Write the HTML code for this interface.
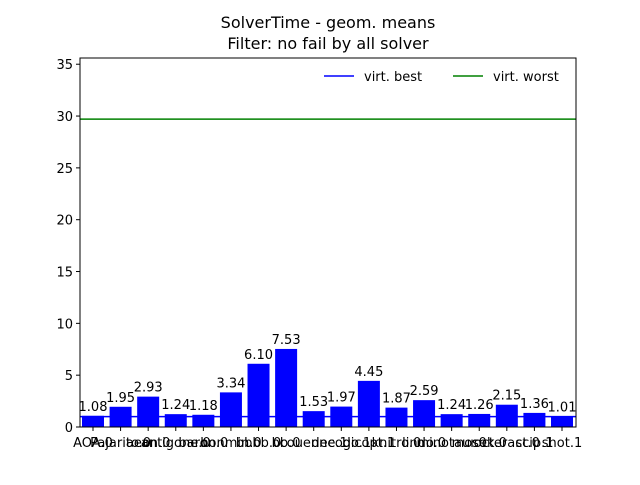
<!DOCTYPE html>
<html><head><meta charset="utf-8"><style>
body{margin:0;background:#fff;font-family:"Liberation Sans","DejaVu Sans",sans-serif;}
svg text{font-family:"DejaVu Sans","Liberation Sans",sans-serif;}
</style></head><body>
<svg id="chart" width="640" height="480">
<rect width="640" height="480" fill="#fff"/>
<text x="328" y="28" font-size="16" text-anchor="middle">SolverTime - geom. means</text>
<text x="328" y="49" font-size="16" text-anchor="middle">Filter: no fail by all solver</text>
<g id="plot"></g>
</svg>
<script>
const categories=["AOA.0","Pajarito.0","aeon.0","antigone.0","baron.0","bonmin.0","bbbb.0","bb.0","couenne.1","decogo.1","dicopt.1","knitro.0","lindo.0","minotaur.0","mosek.0","octeract.0","scip.1","shot.1"];
const values=[1.08,1.95,2.93,1.24,1.18,3.34,6.10,7.53,1.53,1.97,4.45,1.87,2.59,1.24,1.26,2.15,1.36,1.01];
const yTicks=[0,5,10,15,20,25,30,35];
const virtBest=1.0;
const virtWorst=29.7;
const L=80,R=576,T=58,B=427,YMAX=35.6;
const ns="http://www.w3.org/2000/svg";
const g=document.getElementById('plot');
function y(v){return B-(v/YMAX)*(B-T);}
const step=(R-L)/(categories.length+0.5);
function x(i){return L+13+i*((R-L-27)/(categories.length-1));}
function mk(t,a,p){const e=document.createElementNS(ns,t);for(const k in a)e.setAttribute(k,a[k]);(p||g).appendChild(e);return e;}
values.forEach((v,i)=>{
 const b=mk('rect',{x:x(i)-11,y:y(v),width:22,height:B-y(v),fill:'#0000ff'});
 
 
 const t=mk('text',{x:x(i),y:y(v)-5,'font-size':13,'text-anchor':'middle'});t.textContent=v.toFixed(2);
 
 
 mk('line',{x1:x(i),x2:x(i),y1:B,y2:B+4,stroke:'#000'});
 const l=mk('text',{x:x(i),y:B+20,'font-size':13,'text-anchor':'middle'});l.textContent=categories[i];
 
 
});
const lb=mk('line',{x1:L,x2:R,y1:y(virtBest),y2:y(virtBest),stroke:'#0000ff','stroke-width':1.5});


const lw=mk('line',{x1:L,x2:R,y1:y(virtWorst),y2:y(virtWorst),stroke:'#008000','stroke-width':1.5});


yTicks.forEach(v=>{
 mk('line',{x1:L-4,x2:L,y1:y(v),y2:y(v),stroke:'#000'});
 const t=mk('text',{x:L-7,y:y(v)+5,'font-size':13,'text-anchor':'end'});t.textContent=v;
 
 
});
const fr=mk('rect',{x:L,y:T,width:R-L,height:B-T,fill:'none',stroke:'#000'});


const lg=mk('g',{});


mk('line',{x1:324,x2:354,y1:76,y2:76,stroke:'#0000ff','stroke-width':1.5},lg);
mk('text',{x:364,y:81,'font-size':13},lg).textContent='virt. best';
mk('line',{x1:453,x2:483,y1:76,y2:76,stroke:'#008000','stroke-width':1.5},lg);
mk('text',{x:493,y:81,'font-size':13},lg).textContent='virt. worst';
</script>
</body></html>
